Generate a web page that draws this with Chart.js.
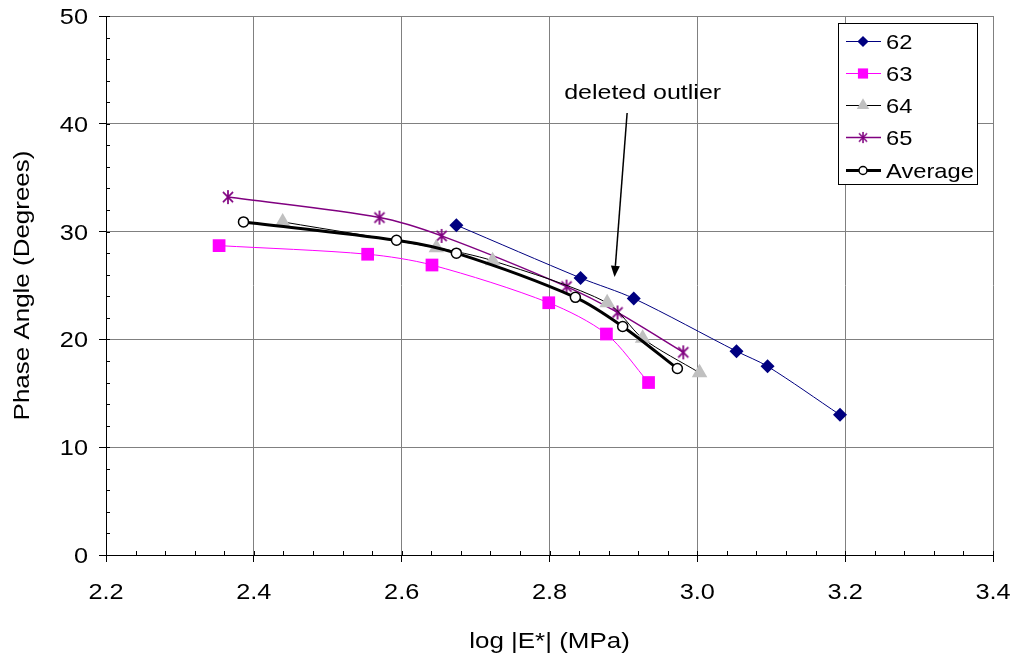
<!DOCTYPE html>
<html><head><meta charset="utf-8">
<script src="https://cdn.jsdelivr.net/npm/chart.js@4/dist/chart.umd.min.js"></script>
<style>html,body{margin:0;padding:0;background:#fff}#wrap{width:1014px;height:662px}</style>
</head><body><div id="wrap"><canvas id="c" width="1014" height="662"></canvas></div>
<script>
const xTickLabels = ['2.2','2.4','2.6','2.8','3.0','3.2','3.4'];
const yTickLabels = ['0','10','20','30','40','50'];
const xTitle = 'log |E*| (MPa)';
const yTitle = 'Phase Angle (Degrees)';
const seriesNames = ['62','63','64','65','Average'];
const x62 = [2.674, 2.842, 2.914, 3.053, 3.095, 3.193];
const y62 = [30.6, 25.7, 23.8, 18.9, 17.5, 13.0];
const x63 = [2.353, 2.554, 2.641, 2.799, 2.877, 2.934];
const y63 = [28.7, 27.9, 26.9, 23.4, 20.5, 16.0];
const x64 = [2.439, 2.647, 2.723, 2.878, 2.926, 3.003];
const y64 = [30.9, 28.5, 27.3, 23.4, 20.1, 16.9];
const x65 = [2.365, 2.570, 2.654, 2.823, 2.892, 2.981];
const y65 = [33.2, 31.3, 29.6, 24.9, 22.5, 18.8];
const xAvg = [2.386, 2.593, 2.674, 2.835, 2.899, 2.973];
const yAvg = [30.9, 29.2, 28.0, 23.9, 21.2, 17.3];
const annotationText = 'deleted outlier';
const annotationTextPos = [2.926, 42.3];
const arrowFrom = [2.905, 41.0];
const arrowTo = [2.888, 25.8];

const FONT = '"Liberation Sans", Arial, sans-serif';
const pts = (xs, ys) => xs.map((x, i) => ({x, y: ys[i]}));

function starCanvas(color, size) {
  const c = document.createElement('canvas');
  c.width = c.height = size;
  const g = c.getContext('2d');
  g.strokeStyle = color; g.lineWidth = 1.7;
  const m = size / 2, r = size / 2 - 1, d = r * 0.72;
  g.beginPath();
  g.moveTo(m, m - r); g.lineTo(m, m + r);
  g.moveTo(m - d, m - d); g.lineTo(m + d, m + d);
  g.moveTo(m + d, m - d); g.lineTo(m - d, m + d);
  g.stroke();
  return c;
}
const star = starCanvas('#800080', 16);

const datasets = [
  {label: seriesNames[0], data: pts(x62, y62), borderColor: '#000080', backgroundColor: '#000080', borderWidth: 1, pointStyle: 'rectRot', pointRadius: 7, pointBorderWidth: 0, tension: 0.3},
  {label: seriesNames[1], data: pts(x63, y63), borderColor: '#FF00FF', backgroundColor: '#FF00FF', borderWidth: 1, pointStyle: 'rect', pointRadius: 9, pointBorderWidth: 0, tension: 0.3},
  {label: seriesNames[2], data: pts(x64, y64), borderColor: '#000000', backgroundColor: '#C0C0C0', pointBorderColor: '#C0C0C0', borderWidth: 1, pointStyle: 'triangle', pointRadius: 9, pointBorderWidth: 0, tension: 0.3},
  {label: seriesNames[3], data: pts(x65, y65), borderColor: '#800080', backgroundColor: '#800080', borderWidth: 1.5, pointStyle: star, pointRadius: 8, tension: 0.3},
  {label: seriesNames[4], data: pts(xAvg, yAvg), borderColor: '#000000', backgroundColor: '#FFFFFF', pointBorderColor: '#000000', borderWidth: 3, pointStyle: 'circle', pointRadius: 5, pointBorderWidth: 1.5, tension: 0.3, order: -1}
];

function txt(ctx, s, x, y, size, k, align, rot) {
  ctx.save();
  ctx.translate(x, y);
  if (rot) ctx.rotate(rot);
  ctx.scale(k, 1);
  ctx.font = size + 'px ' + FONT;
  ctx.textAlign = align; ctx.textBaseline = 'alphabetic';
  ctx.fillStyle = '#000';
  ctx.fillText(s, 0, 0);
  ctx.restore();
}

const extras = {
  id: 'extras',
  afterDraw(chart) {
    const {ctx, chartArea: a, scales: {x, y}} = chart;
    ctx.save();
    ctx.strokeStyle = '#000'; ctx.lineWidth = 1;
    ctx.beginPath();
    for (let i = 0; i <= 30; i++) {
      const px = Math.round(x.getPixelForValue(2.2 + i * 0.04)) + 0.5;
      ctx.moveTo(px, a.bottom); ctx.lineTo(px, a.bottom - 4);
    }
    for (let i = 0; i <= 25; i++) {
      const py = Math.round(y.getPixelForValue(i * 2)) + 0.5;
      ctx.moveTo(a.left, py); ctx.lineTo(a.left + 4, py);
    }
    ctx.stroke();
    xTickLabels.forEach(t => txt(ctx, t, x.getPixelForValue(parseFloat(t)), a.bottom + 44, 22, 1.15, 'center'));
    yTickLabels.forEach(t => txt(ctx, t, a.left - 18, y.getPixelForValue(parseFloat(t)) + 8, 22, 1.15, 'right'));
    txt(ctx, xTitle, (a.left + a.right) / 2, 648, 22, 1.18, 'center');
    txt(ctx, yTitle, 29, (a.top + a.bottom) / 2, 22, 1.18, 'center', -Math.PI / 2);
    txt(ctx, annotationText, x.getPixelForValue(annotationTextPos[0]), y.getPixelForValue(annotationTextPos[1]), 21, 1.19, 'center');
    const x1 = x.getPixelForValue(arrowFrom[0]), y1 = y.getPixelForValue(arrowFrom[1]);
    const x2 = x.getPixelForValue(arrowTo[0]), y2 = y.getPixelForValue(arrowTo[1]);
    const ang = Math.atan2(y2 - y1, x2 - x1);
    const hl = 11, hw = 4.5;
    const bx = x2 - hl * Math.cos(ang), by = y2 - hl * Math.sin(ang);
    ctx.strokeStyle = '#000'; ctx.fillStyle = '#000';
    ctx.lineWidth = 1.5;
    ctx.beginPath(); ctx.moveTo(x1, y1); ctx.lineTo(bx, by); ctx.stroke();
    ctx.beginPath();
    ctx.moveTo(x2, y2);
    ctx.lineTo(bx + hw * Math.sin(ang), by - hw * Math.cos(ang));
    ctx.lineTo(bx - hw * Math.sin(ang), by + hw * Math.cos(ang));
    ctx.closePath(); ctx.fill();
    const L = a.right - 155, T = a.top + 7, W = 139, H = 161;
    ctx.fillStyle = '#fff'; ctx.fillRect(L, T, W, H);
    ctx.strokeStyle = '#000'; ctx.lineWidth = 1;
    ctx.strokeRect(Math.round(L) + 0.5, Math.round(T) + 0.5, W, H);
    chart.data.datasets.forEach((ds, i) => {
      const cy = Math.round(T + 17.5 + i * 32.3) + 0.5;
      ctx.strokeStyle = ds.borderColor; ctx.lineWidth = ds.borderWidth;
      ctx.beginPath(); ctx.moveTo(L + 8, cy); ctx.lineTo(L + 43, cy); ctx.stroke();
      const opts = {pointStyle: ds.pointStyle, radius: ds.pointRadius * 0.8, borderWidth: ds.pointBorderWidth || 0, rotation: 0};
      ctx.fillStyle = ds.backgroundColor;
      ctx.strokeStyle = ds.pointBorderColor || ds.borderColor;
      ctx.lineWidth = ds.pointBorderWidth || 0;
      if (ds.pointStyle instanceof HTMLCanvasElement) {
        ctx.drawImage(ds.pointStyle, L + 25 - 6.5, cy - 6.5, 13, 13);
      } else {
        Chart.helpers.drawPoint(ctx, opts, L + 25, cy);
      }
      txt(ctx, ds.label, L + 48, cy + 7.5, 21, 1.13, 'left');
    });
    ctx.restore();
  }
};

new Chart(document.getElementById('c'), {
  type: 'line',
  data: {datasets},
  options: {
    responsive: false, animation: false,
    layout: {padding: {top: 16, right: 21, left: 0, bottom: 0}},
    plugins: {legend: {display: false}, tooltip: {enabled: false}},
    scales: {
      x: {
        type: 'linear', min: 2.2, max: 3.4,
        afterFit: s => { s.height = 107; s.paddingLeft = 0; s.paddingRight = 0; },
        afterBuildTicks: s => { s.ticks = xTickLabels.map(t => ({value: parseFloat(t)})); },
        ticks: {display: false},
        grid: {color: '#808080', lineWidth: 1, tickLength: 7, tickColor: '#000'},
        border: {color: '#000', width: 1},
        title: {display: false}
      },
      y: {
        min: 0, max: 50,
        afterFit: s => { s.width = 106; s.paddingTop = 0; s.paddingBottom = 0; },
        afterBuildTicks: s => { s.ticks = yTickLabels.map(t => ({value: parseFloat(t)})); },
        ticks: {display: false},
        grid: {color: '#808080', lineWidth: 1, tickLength: 7, tickColor: '#000'},
        border: {color: '#000', width: 1},
        title: {display: false}
      }
    }
  },
  plugins: [extras]
});
</script></body></html>
